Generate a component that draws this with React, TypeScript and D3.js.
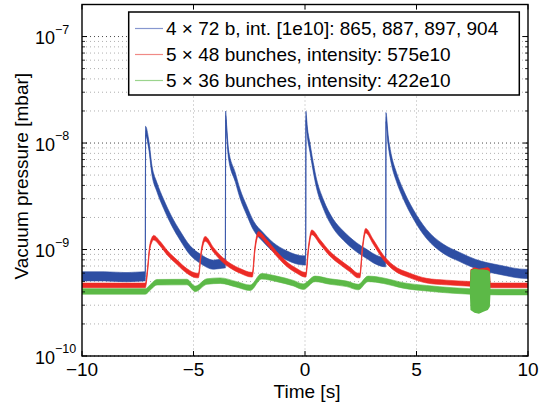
import React from 'react';
import * as d3 from 'd3';

const W = 541;
const H = 404;
const PLOT = { left: 82, right: 528, top: 4.5, bottom: 356 };
const FONT = '"Liberation Sans", Arial, Helvetica, sans-serif';

const xDomain = [-10, 10];
const yDomain = [1e-10, 2e-7];
const xTicks = [-10, -5, 0, 5, 10];
const xTickLabels = ['\u221210', '\u22125', '0', '5', '10'];
const yMajorExps = [-10, -9, -8, -7];

// 4 x 72 b series (blue)
const blueT = [-10, -9, -8, -7.2, -7.16, -7.15, -7.01, -6.86, -6.64, -6.34, -5.99, -5.6, -5.15, -4.7, -4.1, -3.6, -3.57,
  -3.56, -3.5, -3.43, -3.13, -2.91, -2.61, -2.31, -1.87, -1.42, -0.82, -0.08, 0.03,
  0.04, 0.1, 0.22, 0.52, 0.82, 1.27, 1.72, 2.31, 2.76, 3.2, 3.6, 3.62,
  3.63, 3.73, 3.88, 4.1, 4.4, 4.85, 5.45, 6.19, 6.94, 7.66, 8.73, 9.92, 10];
const blueV = [5.6e-10, 5.6e-10, 5.5e-10, 5.6e-10, 5.6e-10, 1.3e-8, 9.8e-9, 5.5e-9, 3.85e-9, 2.68e-9, 1.87e-9, 1.35e-9, 9.8e-10, 8.2e-10, 7.2e-10, 7.4e-10, 7.4e-10,
  1.81e-8, 1.2e-8, 7.9e-9, 4.8e-9, 3.33e-9, 2.32e-9, 1.68e-9, 1.3e-9, 1.05e-9, 8.8e-10, 7.9e-10, 7.9e-10,
  1.8e-8, 1.3e-8, 9.1e-9, 4.14e-9, 2.68e-9, 1.74e-9, 1.35e-9, 1.05e-9, 9.1e-10, 8.0e-10, 7.6e-10, 7.6e-10,
  1.75e-8, 1.06e-8, 6.9e-9, 4.8e-9, 3.33e-9, 2.16e-9, 1.4e-9, 1.02e-9, 8.5e-10, 7.3e-10, 6.45e-10, 5.9e-10, 5.9e-10];

// 5 x 48 bunches (red)
const redT = [-10, -7.16, -7.05, -6.98, -6.86, -6.79, -6.49, -6.19, -5.74, -5.3, -4.85, -4.78, -4.65, -4.48, -4.1, -3.8, -3.36,
  -2.91, -2.39, -2.36, -2.25, -2.09, -1.72, -1.27, -0.82, -0.37, 0.0, 0.04, 0.15, 0.3, 0.67, 1.12, 1.57, 2.01, 2.39,
  2.46, 2.57, 2.72, 3.06, 3.5, 3.95, 4.7, 5.45, 6.34, 7.39, 8.43, 10];
const redV = [4.6e-10, 4.6e-10, 6.8e-10, 9.8e-10, 1.24e-9, 1.29e-9, 1.13e-9, 9.4e-10, 7.6e-10, 6.3e-10, 5.7e-10, 5.7e-10, 9.5e-10, 1.26e-9, 9.9e-10, 8.4e-10, 7.06e-10,
  6.3e-10, 5.8e-10, 5.8e-10, 1.0e-9, 1.4e-9, 1.18e-9, 9.1e-10, 7.3e-10, 6.3e-10, 5.8e-10, 5.8e-10, 1.0e-9, 1.45e-9, 1.18e-9, 9.1e-10, 7.6e-10, 6.5e-10, 5.7e-10,
  5.7e-10, 1.0e-9, 1.5e-9, 1.18e-9, 8.5e-10, 6.8e-10, 5.7e-10, 5.1e-10, 4.9e-10, 4.76e-10, 4.6e-10, 4.6e-10];

// 5 x 36 bunches (green)
const greenT = [-10, -7.16, -6.9, -6.64, -5.3, -4.92, -4.4, -3.8, -3.06, -2.46, -1.94, -1.27, -0.52, -0.08, 0.45, 1.12, 1.87,
  2.39, 2.83, 3.51, 4.4, 5.45, 6.64, 7.39, 8.73, 10];
const greenV = [4.04e-10, 4.04e-10, 4.5e-10, 4.93e-10, 4.95e-10, 4.27e-10, 5.0e-10, 5.1e-10, 4.7e-10, 4.37e-10, 5.6e-10, 5.3e-10, 4.83e-10, 4.48e-10, 5.3e-10, 5.0e-10, 4.76e-10,
  4.44e-10, 5.3e-10, 5.1e-10, 4.6e-10, 4.33e-10, 4.12e-10, 4.04e-10, 3.98e-10, 3.98e-10];

// disturbance around t = 7.4 .. 8.3 s
const burstT = [7.39, 7.42, 7.6, 7.8, 8.0, 8.2, 8.29, 8.32];
const greenBurstLo = [4.0e-10, 2.7e-10, 2.55e-10, 2.5e-10, 2.6e-10, 2.7e-10, 2.9e-10, 4.0e-10];
const greenBurstHi = [4.2e-10, 6.4e-10, 6.6e-10, 6.5e-10, 6.5e-10, 6.4e-10, 6.2e-10, 4.2e-10];
const redBurstLo = [4.5e-10, 4.5e-10, 4.5e-10, 4.5e-10, 4.5e-10, 4.5e-10, 4.5e-10, 4.5e-10];
const redBurstHi = [4.8e-10, 6.5e-10, 6.8e-10, 6.6e-10, 6.7e-10, 6.8e-10, 6.6e-10, 4.8e-10];

const legendLabels = [
  '4 \u00d7 72 b, int. [1e10]: 865, 887, 897, 904',
  '5 \u00d7 48 bunches, intensity: 575e10',
  '5 \u00d7 36 bunches, intensity: 422e10',
];
const colors = ['#2e4ea3', '#ec2a25', '#5cb947'];
const lightColors = ['#8797cf', '#f08a86', '#9bd48d'];
const bandHalf = [0.043, 0.022, 0.026];

export default function App() {
  const x = d3.scaleLinear().domain(xDomain).range([PLOT.left, PLOT.right]);
  const y = d3.scaleLog().domain(yDomain).range([PLOT.bottom, PLOT.top]);

  const bandPath = (ts: number[], vs: number[], h: number) => {
    const f = Math.pow(10, h);
    return d3.area<number>()
      .curve(d3.curveMonotoneX)
      .x((_, i) => x(ts[i]))
      .y0((v) => y(v / f))
      .y1((v) => y(v * f))(vs) || '';
  };
  const envPath = (ts: number[], lo: number[], hi: number[]) =>
    d3.area<number>()
      .x((_, i) => x(ts[i]))
      .y0((_, i) => y(lo[i]))
      .y1((_, i) => y(hi[i]))(ts) || '';
  const linePath = (ts: number[], vs: number[]) =>
    d3.line<number>().curve(d3.curveMonotoneX).x((_, i) => x(ts[i])).y((v) => y(v))(vs) || '';

  const series = [
    { t: blueT, v: blueV },
    { t: redT, v: redV },
    { t: greenT, v: greenV },
  ];

  const majors = yMajorExps.map((e) => Math.pow(10, e));
  const minors: number[] = [];
  yMajorExps.forEach((e) => {
    for (let k = 2; k <= 9; k++) {
      const v = k * Math.pow(10, e);
      if (v < yDomain[1] * 0.999) minors.push(v);
    }
  });

  const legendRows = [28.5, 54.5, 80.5];

  return (
    <svg width={W} height={H} style={{ position: 'absolute', left: 0, top: 0, background: '#fff' }}
      fontFamily={FONT}>
      <rect x={0} y={0} width={W} height={H} fill="#fff" />
      <defs>
        <clipPath id="plotClip">
          <rect x={PLOT.left} y={PLOT.top} width={PLOT.right - PLOT.left} height={PLOT.bottom - PLOT.top} />
        </clipPath>
      </defs>

      {/* grid */}
      <g>
        {minors.map((v, i) => (
          <line key={'mn' + i} x1={PLOT.left} x2={PLOT.right} y1={y(v)} y2={y(v)}
            stroke="#9a9a9a" strokeWidth={0.8} strokeDasharray="1,3" />
        ))}
        {majors.map((v, i) => (
          <line key={'mj' + i} x1={PLOT.left} x2={PLOT.right} y1={y(v)} y2={y(v)}
            stroke="#333" strokeWidth={0.9} strokeDasharray="1,3" />
        ))}
        {xTicks.slice(1, -1).map((t) => (
          <line key={'gx' + t} x1={x(t)} x2={x(t)} y1={PLOT.top} y2={PLOT.bottom}
            stroke="#9a9a9a" strokeWidth={0.8} strokeDasharray="1,3" />
        ))}
      </g>

      {/* data */}
      <g clipPath="url(#plotClip)">
        {series.map((s, i) => (
          <g key={'s' + i}>
            <path d={linePath(s.t, s.v)} fill="none" stroke={lightColors[i]} strokeWidth={1.2} />
            <path d={bandPath(s.t, s.v, bandHalf[i])} fill={colors[i]} stroke={colors[i]} strokeWidth={0.6} />
            {i === 1 && (
              <path d={envPath(burstT, redBurstLo, redBurstHi)} fill={colors[1]} />
            )}
            {i === 2 && (
              <path d={envPath(burstT, greenBurstLo, greenBurstHi)} fill={colors[2]} />
            )}
          </g>
        ))}
      </g>

      {/* axes box */}
      <rect x={PLOT.left} y={PLOT.top} width={PLOT.right - PLOT.left} height={PLOT.bottom - PLOT.top}
        fill="none" stroke="#000" strokeWidth={1.4} />

      {/* x ticks */}
      {xTicks.map((t, i) => (
        <g key={'xt' + t}>
          <line x1={x(t)} x2={x(t)} y1={PLOT.bottom} y2={PLOT.bottom - 5} stroke="#000" strokeWidth={1} />
          <line x1={x(t)} x2={x(t)} y1={PLOT.top} y2={PLOT.top + 5} stroke="#000" strokeWidth={1} />
          <text x={x(t)} y={375.5} fontSize={19} textAnchor="middle" fill="#000">{xTickLabels[i]}</text>
        </g>
      ))}

      {/* y ticks */}
      {majors.map((v, i) => (
        <g key={'yt' + i}>
          <line x1={PLOT.left} x2={PLOT.left + 5} y1={y(v)} y2={y(v)} stroke="#000" strokeWidth={1} />
          <line x1={PLOT.right} x2={PLOT.right - 5} y1={y(v)} y2={y(v)} stroke="#000" strokeWidth={1} />
          <text x={35} y={y(v) + 7.5} fontSize={18} fill="#000">
            10
            <tspan fontSize={12.5} dy={-10.5}>{'\u2212' + Math.abs(yMajorExps[i])}</tspan>
          </text>
        </g>
      ))}
      {minors.map((v, i) => (
        <g key={'ym' + i}>
          <line x1={PLOT.left} x2={PLOT.left + 3} y1={y(v)} y2={y(v)} stroke="#000" strokeWidth={0.8} />
          <line x1={PLOT.right} x2={PLOT.right - 3} y1={y(v)} y2={y(v)} stroke="#000" strokeWidth={0.8} />
        </g>
      ))}

      {/* axis labels */}
      <text x={307} y={398} fontSize={19} textAnchor="middle" fill="#000">Time [s]</text>
      <text transform={`translate(27.5, ${(PLOT.top + PLOT.bottom) / 2 - 4}) rotate(-90)`} fontSize={19}
        textAnchor="middle" fill="#000">Vacuum pressure [mbar]</text>

      {/* legend */}
      <rect x={128.7} y={12} width={390.6} height={83} fill="#fff" stroke="#000" strokeWidth={1.5} />
      {legendLabels.map((lab, i) => (
        <g key={'lg' + i}>
          <line x1={135} x2={163} y1={legendRows[i]} y2={legendRows[i]} stroke={lightColors[i]} strokeWidth={1.2} />
          <text x={166} y={legendRows[i] + 6.8} fontSize={19} fill="#000">{lab}</text>
        </g>
      ))}
    </svg>
  );
}
